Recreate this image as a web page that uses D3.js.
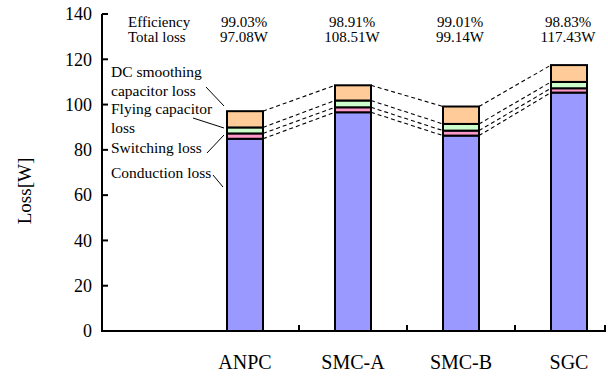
<!DOCTYPE html>
<html>
<head>
<meta charset="utf-8">
<script src="https://cdn.jsdelivr.net/npm/d3@7"></script>
<style>
  html, body { margin: 0; padding: 0; background: #fff; }
  svg { display: block; font-family: "Liberation Serif", "Times New Roman", serif; }
</style>
</head>
<body>
<svg id="chart" width="608" height="377"></svg>
<script>
// Converter topologies and their loss breakdown [W]
const categories = ["ANPC", "SMC-A", "SMC-B", "SGC"];
const conductionLoss = [84.90, 96.60, 86.30, 105.30];
const switchingLoss  = [2.35, 2.20, 2.20, 1.90];
const flyingCapLoss  = [2.65, 3.00, 2.95, 2.80];
const dcCapLoss      = [7.18, 6.71, 7.69, 7.43];
const efficiency     = ["99.03%", "98.91%", "99.01%", "98.83%"];
const totalLoss      = [97.08, 108.51, 99.14, 117.43];
const yTicks = [0, 20, 40, 60, 80, 100, 120, 140];

const seriesNames = ["Conduction loss", "Switching loss", "Flying capacitor loss", "DC smoothing capacitor loss"];
const seriesValues = [conductionLoss, switchingLoss, flyingCapLoss, dcCapLoss];
const seriesColors = ["#9999ff", "#ff99cc", "#ccffcc", "#ffcc99"];

const svg = d3.select("#chart");

const axisLeftX = 102, axisRightX = 606;
const y = d3.scaleLinear().domain([0, 140]).range([331, 14]);
const x = d3.scaleBand().domain(categories).range([191, 623])
  .paddingInner(2 / 3).paddingOuter(1 / 3);
const bw = x.bandwidth();

// Stack the segments per category
const rows = categories.map((c, i) => {
  const r = { cat: c };
  seriesNames.forEach((n, k) => r[n] = seriesValues[k][i]);
  return r;
});
const stacked = d3.stack().keys(seriesNames)(rows);

// Dashed connectors between neighbouring bars at each segment boundary
const conn = svg.append("g");
stacked.forEach(layer => {
  for (let i = 0; i < categories.length - 1; i++) {
    conn.append("line")
      .attr("x1", x(categories[i]) + bw).attr("y1", y(layer[i][1]))
      .attr("x2", x(categories[i + 1])).attr("y2", y(layer[i + 1][1]))
      .attr("stroke", "#000").attr("stroke-width", 1.1)
      .attr("stroke-dasharray", "4,3");
  }
});

// Bars
const bars = svg.append("g");
stacked.forEach((layer, k) => {
  bars.selectAll(null).data(layer).enter().append("rect")
    .attr("x", (d, i) => x(categories[i]))
    .attr("width", bw)
    .attr("y", d => y(d[1]))
    .attr("height", d => y(d[0]) - y(d[1]))
    .attr("fill", seriesColors[k])
    .attr("stroke", "#000")
    .attr("stroke-width", 2);
});

// Y axis (ticks point inward)
const ax = svg.append("g").attr("stroke", "#000").attr("stroke-width", 2);
ax.append("line").attr("x1", axisLeftX).attr("x2", axisLeftX)
  .attr("y1", y(140)).attr("y2", y(0) + 1);
yTicks.forEach(t => {
  ax.append("line").attr("x1", axisLeftX).attr("x2", axisLeftX + 6)
    .attr("y1", y(t)).attr("y2", y(t));
});
svg.append("g").selectAll("text").data(yTicks).enter().append("text")
  .attr("x", 92).attr("y", d => y(d)).attr("dy", "0.35em")
  .attr("text-anchor", "end").attr("font-size", 18).text(d => d);

svg.append("text")
  .attr("transform", "translate(31,191) rotate(-90)")
  .attr("text-anchor", "middle").attr("font-size", 19).text("Loss[W]");

// X axis with ticks between categories
ax.append("line").attr("x1", axisLeftX - 1).attr("x2", axisRightX)
  .attr("y1", y(0)).attr("y2", y(0));
const boundaries = categories.slice(0, -1).map(c => x(c) + bw + (x.step() - bw) / 2);
boundaries.concat([axisRightX - 1]).forEach(b => {
  ax.append("line").attr("x1", b).attr("x2", b)
    .attr("y1", y(0)).attr("y2", y(0) - 6);
});
svg.append("g").selectAll("text").data(categories).enter().append("text")
  .attr("x", d => x(d) + bw / 2).attr("y", 369)
  .attr("text-anchor", "middle").attr("font-size", 20).text(d => d);

// Efficiency / total loss summary above the bars
const summary = svg.append("g").attr("font-size", 15);
summary.append("text").attr("x", 128).attr("y", 27).text("Efficiency");
summary.append("text").attr("x", 128).attr("y", 42).text("Total loss");
categories.forEach((c, i) => {
  summary.append("text").attr("x", x(c) + bw / 2 - 1).attr("y", 27)
    .attr("text-anchor", "middle").text(efficiency[i]);
  summary.append("text").attr("x", x(c) + bw / 2 - 1).attr("y", 42)
    .attr("text-anchor", "middle").text(totalLoss[i].toFixed(2) + "W");
});

// Series labels with leader lines to the first bar
const labelLines = [
  { lines: ["DC smoothing", "capacitor loss"], ys: [77, 96], from: [206, 87], to: [224, 106] },
  { lines: ["Flying capacitor", "loss"], ys: [114, 133], from: [193, 118], to: [224, 128] },
  { lines: ["Switching loss"], ys: [153], from: [207, 153], to: [224, 135] },
  { lines: ["Conduction loss"], ys: [178], from: [213, 175], to: [223, 187] }
];
const lab = svg.append("g").attr("font-size", 15.5);
labelLines.forEach(l => {
  l.lines.forEach((t, j) => {
    lab.append("text").attr("x", 111).attr("y", l.ys[j]).text(t);
  });
  lab.append("line")
    .attr("x1", l.from[0]).attr("y1", l.from[1])
    .attr("x2", l.to[0]).attr("y2", l.to[1])
    .attr("stroke", "#000").attr("stroke-width", 1);
});
</script>
</body>
</html>
